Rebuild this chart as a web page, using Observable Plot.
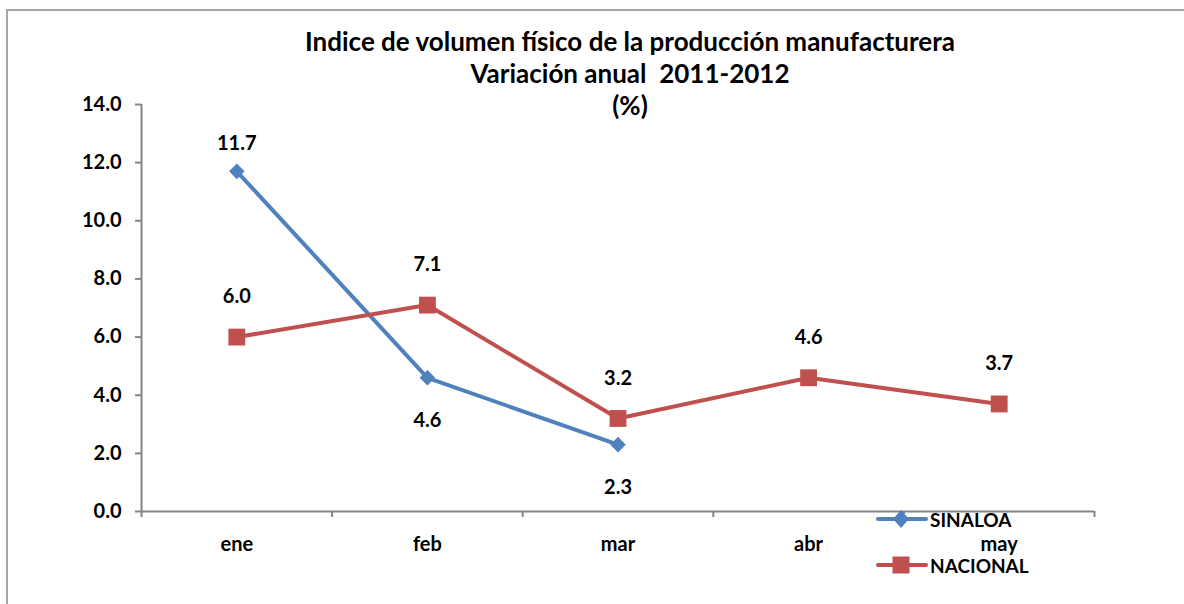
<!DOCTYPE html>
<html>
<head>
<meta charset="utf-8">
<script src="https://cdn.jsdelivr.net/npm/d3@7"></script>
<script src="https://cdn.jsdelivr.net/npm/@observablehq/plot@0.6"></script>
<style>
  html, body { margin: 0; padding: 0; background: #fff; }
  #wrap { position: relative; width: 1184px; height: 604px; overflow: hidden; background: #fff; font-family: Lato, "Open Sans", sans-serif; }
  #frame { position: absolute; left: 6px; top: 9px; width: 1300px; height: 700px; border-left: 2px solid #a6a6a6; border-top: 2px solid #a6a6a6; }
  #title { position: absolute; left: 230px; width: 800px; top: 25px; text-align: center; font-weight: bold; font-size: 26px; line-height: 32px; color: #000; }
  #chart { position: absolute; left: 0; top: 0; }
  #legend { position: absolute; left: 876px; top: 506px; font-weight: bold; font-size: 19px; line-height: 19px; color: #000; }
  .lg { display: flex; align-items: center; height: 26px; margin-bottom: 20px; }
  .lg svg { margin-right: 2px; }
</style>
</head>
<body>
<div id="wrap">
  <div id="frame"></div>
  <div id="chart"></div>
  <div id="title">Indice de volumen físico de la producción manufacturera<br>Variación anual&nbsp; 2011-2012<br>(%)</div>
  <div id="legend"></div>
</div>
<script>
const months = ["ene", "feb", "mar", "abr", "may"];
const seriesNames = ["SINALOA", "NACIONAL"];
const sinaloa = [11.7, 4.6, 2.3];
const nacional = [6.0, 7.1, 3.2, 4.6, 3.7];
const yTicks = [0, 2, 4, 6, 8, 10, 12, 14];
const colors = {SINALOA: "#4F81BD", NACIONAL: "#C0504D"};
const symbols = {SINALOA: "diamond2", NACIONAL: "square"};

const rows = [];
sinaloa.forEach((v, i) => rows.push({series: "SINALOA", i, month: months[i], value: v}));
nacional.forEach((v, i) => rows.push({series: "NACIONAL", i, month: months[i], value: v}));
const sin = rows.filter(d => d.series === "SINALOA");
const nac = rows.filter(d => d.series === "NACIONAL");
const boundaries = d3.range(-0.5, months.length, 1);
const fmt = d3.format(".1f");
const FS = 20;

const chart = Plot.plot({
  width: 1184,
  height: 604,
  marginLeft: 141,
  marginRight: 90,
  marginTop: 104,
  marginBottom: 93,
  style: {fontFamily: "Lato, 'Open Sans', sans-serif", fontWeight: "bold", fontSize: FS + "px", color: "#000", background: "transparent"},
  x: {type: "linear", domain: [-0.5, months.length - 0.5]},
  y: {domain: [0, 14]},
  marks: [
    Plot.axisY({ticks: yTicks, tickFormat: fmt, tickSize: 6, tickPadding: 14, stroke: "#868686", strokeWidth: 2, label: null, fontSize: FS}),
    Plot.axisX({ticks: d3.range(months.length), tickFormat: i => months[i], tickSize: 0, tickPadding: 25, label: null, fontSize: FS}),
    Plot.axisX({ticks: boundaries, tickFormat: () => "", tickSize: 6, stroke: "#868686", strokeWidth: 2, label: null}),
    Plot.ruleX([-0.5], {stroke: "#868686", strokeWidth: 2}),
    Plot.ruleY([0], {stroke: "#868686", strokeWidth: 2}),
    Plot.line(sin, {x: "i", y: "value", stroke: colors.SINALOA, strokeWidth: 4}),
    Plot.line(nac, {x: "i", y: "value", stroke: colors.NACIONAL, strokeWidth: 4}),
    Plot.dot(sin, {x: "i", y: "value", symbol: symbols.SINALOA, r: 7, fill: colors.SINALOA, stroke: "none"}),
    Plot.dot(nac, {x: "i", y: "value", symbol: symbols.NACIONAL, r: 9.5, fill: colors.NACIONAL, stroke: "none"}),
    Plot.text(nac, {x: "i", y: "value", text: d => fmt(d.value), dy: -40, fill: "#000", fontSize: FS, fontWeight: "bold"}),
    Plot.text(sin.filter(d => d.i === 0), {x: "i", y: "value", text: d => fmt(d.value), dy: -28, fill: "#000", fontSize: FS, fontWeight: "bold"}),
    Plot.text(sin.filter(d => d.i > 0), {x: "i", y: "value", text: d => fmt(d.value), dy: 43, fill: "#000", fontSize: FS, fontWeight: "bold"})
  ]
});
document.getElementById("chart").appendChild(chart);

// legend
const legend = document.getElementById("legend");
seriesNames.forEach(name => {
  const row = document.createElement("div");
  row.className = "lg";
  const sym = name === "SINALOA"
    ? `<polygon points="25,4 33,13 25,22 17,13" fill="${colors[name]}"/>`
    : `<rect x="16.5" y="4.5" width="17" height="17" fill="${colors[name]}"/>`;
  row.innerHTML = `<svg width="52" height="26"><line x1="2" y1="13" x2="50" y2="13" stroke="${colors[name]}" stroke-width="4" stroke-linecap="round"/>${sym}</svg><span>${name}</span>`;
  legend.appendChild(row);
});
</script>
</body>
</html>
